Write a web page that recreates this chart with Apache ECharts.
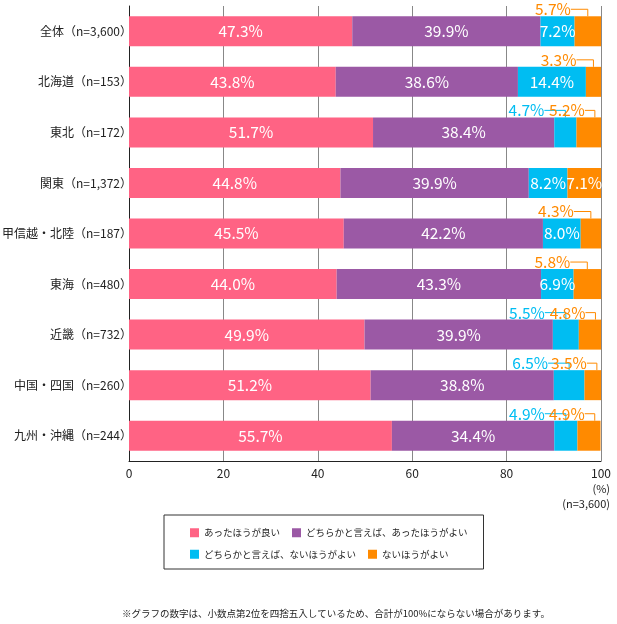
<!DOCTYPE html>
<html>
<head>
<meta charset="utf-8">
<script src="https://cdn.jsdelivr.net/npm/echarts@6/dist/echarts.min.js"></script>
<style>
  html, body { margin: 0; padding: 0; background: #fff; }
  #main { width: 617px; height: 624px; }
</style>
</head>
<body>
<div id="main"></div>
<script>
const regions = [
  '全体（n=3,600）',
  '北海道（n=153）',
  '東北（n=172）',
  '関東（n=1,372）',
  '甲信越・北陸（n=187）',
  '東海（n=480）',
  '近畿（n=732）',
  '中国・四国（n=260）',
  '九州・沖縄（n=244）',
];
const seriesNames = [
  'あったほうが良い',
  'どちらかと言えば、あったほうがよい',
  'どちらかと言えば、ないほうがよい',
  'ないほうがよい',
];
const better = [47.3, 43.8, 51.7, 44.8, 45.5, 44.0, 49.9, 51.2, 55.7];
const ratherBetter = [39.9, 38.6, 38.4, 39.9, 42.2, 43.3, 39.9, 38.8, 34.4];
const ratherNot = [7.2, 14.4, 4.7, 8.2, 8.0, 6.9, 5.5, 6.5, 4.9];
const notNeeded = [5.7, 3.3, 5.2, 7.1, 4.3, 5.8, 4.8, 3.5, 4.9];
const xTicks = [0, 20, 40, 60, 80, 100];

// which small values get a callout above the bar
const cyanOut = [false, false, true, false, false, false, true, true, true];
const orangeOut = [true, true, true, false, true, true, true, true, true];

const colors = ['#FF6384', '#9B59A5', '#00BDF2', '#FF8A00'];
const font = '"Noto Sans CJK JP", "Noto Sans", sans-serif';

const dom = document.getElementById('main');
const chart = echarts.init(dom);

function calloutPos(i, isOrange) {
  if (isOrange && cyanOut[i]) return { frac: 0.75, len: 10 };
  if (isOrange) return { frac: 0.5, len: 17 };
  return { frac: 0.5, len: 21 };
}

function buildData(values, flags, color, isOrange) {
  return values.map((v, i) => {
    if (!flags || !flags[i]) return v;
    return {
      value: v,
      label: { color: color },
      labelLine: { show: true, length2: calloutPos(i, isOrange).len, lineStyle: { color: color, width: 1 } },
    };
  });
}

function calloutLayout(flags, isOrange) {
  return function (p) {
    if (!flags[p.dataIndex]) return {};
    const r = p.rect;
    const c = calloutPos(p.dataIndex, isOrange);
    return {
      x: r.x + r.width * c.frac - c.len,
      y: r.y - 7,
      align: 'right',
      verticalAlign: 'middle',
    };
  };
}

function barSeries(idx, values, flags, isOrange) {
  const s = {
    name: seriesNames[idx],
    type: 'bar',
    stack: 'total',
    barWidth: 30,
    itemStyle: { color: colors[idx] },
    label: {
      show: true,
      position: 'inside',
      color: '#fff',
      fontSize: 15.5,
      fontFamily: font,
      formatter: (p) => p.value.toFixed(1) + '%',
    },
    labelLine: { show: false },
    data: buildData(values, flags, colors[idx], isOrange),
  };
  if (flags) s.labelLayout = calloutLayout(flags, isOrange);
  return s;
}

chart.setOption({
  animation: false,
  textStyle: { fontFamily: font },
  grid: { left: 129, right: 16, top: 6, bottom: 163, outerBoundsMode: 'none', containLabel: false },
  title: {
    text: '※グラフの数字は、小数点第2位を四捨五入しているため、合計が100%にならない場合があります。',
    left: 122,
    top: 609,
    padding: 0,
    textStyle: { fontSize: 9.5, fontWeight: 'normal', color: '#222', fontFamily: font },
  },
  graphic: [
    {
      type: 'text',
      x: 610,
      y: 481,
      style: {
        text: '(%)\n(n=3,600)',
        align: 'right',
        verticalAlign: 'top',
        fontSize: 11,
        lineHeight: 15,
        fill: '#222',
        fontFamily: font,
      },
    },
  ],
  legend: {
    data: seriesNames,
    left: 164,
    top: 515,
    width: 282,
    padding: [13, 16, 10, 26],
    itemGap: 12,
    itemWidth: 9,
    itemHeight: 9,
    icon: 'rect',
    borderColor: '#333',
    borderWidth: 1,
    textStyle: { fontSize: 9.5, color: '#222', fontFamily: font },
  },
  xAxis: {
    type: 'value',
    min: xTicks[0],
    max: xTicks[xTicks.length - 1],
    interval: 20,
    axisLine: { show: true, lineStyle: { color: '#222', width: 1 } },
    axisTick: { show: false },
    axisLabel: { color: '#222', fontSize: 12, margin: 6 },
    splitLine: { show: true, lineStyle: { color: '#888', width: 1 } },
  },
  yAxis: {
    type: 'category',
    inverse: true,
    data: regions,
    axisLine: { show: true, lineStyle: { color: '#222', width: 1 } },
    axisTick: { show: false },
    axisLabel: { color: '#222', fontSize: 12, margin: -3 },
  },
  series: [
    barSeries(0, better, null, false),
    barSeries(1, ratherBetter, null, false),
    barSeries(2, ratherNot, cyanOut, false),
    barSeries(3, notNeeded, orangeOut, true),
  ],
});
</script>
</body>
</html>
